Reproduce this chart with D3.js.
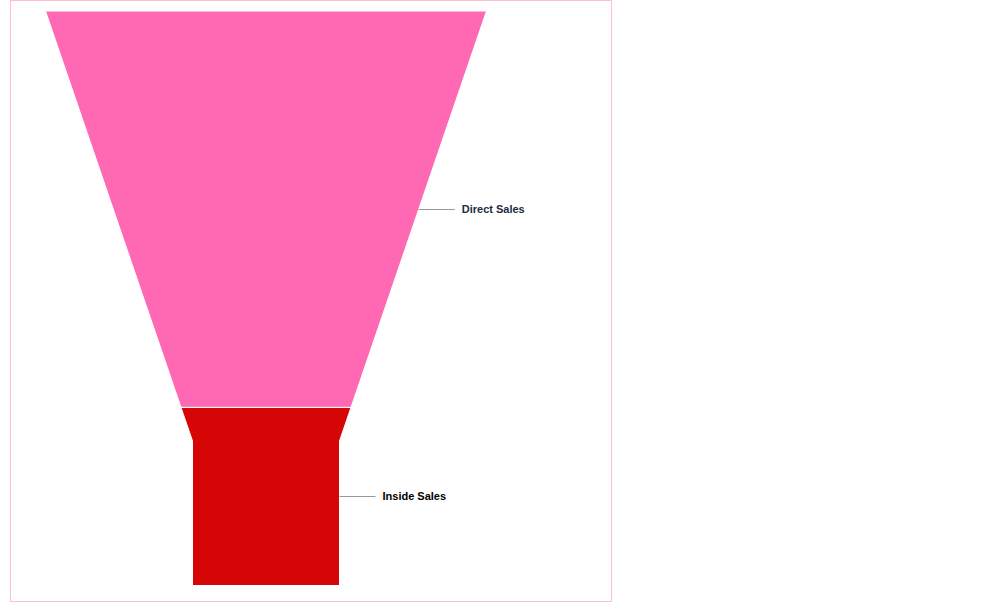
<!DOCTYPE html>
<html><head><meta charset="utf-8">
<script src="https://cdn.jsdelivr.net/npm/d3@7"></script>
<style>body{margin:0;background:#fff}svg{display:block}</style>
</head><body>
<script>
const categories = ["Direct Sales", "Inside Sales"];
const values = [69, 31];
const colors = ["#FF69B4", "#D70606"];
const labelColors = ["#1c2b40", "#000000"];

(function () {
const W = 992, H = 602;
const svg = d3.select("body").append("svg").attr("width", W).attr("height", H);
svg.append("rect").attr("x", 10.5).attr("y", 0.5).attr("width", 601).attr("height", 601)
  .attr("fill", "#fff").attr("stroke", "#ffc0cb").attr("stroke-width", 1);

const fTop = 11, fBottom = 585.5, cx = 266, topW = 441, neckW = 147, neckY = 441;
const total = d3.sum(values);
const y = d3.scaleLinear().domain([0, total]).range([fTop, fBottom]);
const halfW = d3.scaleLinear().domain([fTop, neckY]).range([topW / 2, neckW / 2]).clamp(true);

let cum = 0;
const segs = values.map((v, i) => {
  const y0 = y(cum), y1 = y(cum + v); cum += v;
  return {name: categories[i], y0, y1, color: colors[i], lc: labelColors[i]};
});

segs.forEach(s => {
  const pts = [];
  pts.push([cx - halfW(s.y0), s.y0], [cx + halfW(s.y0), s.y0]);
  const crosses = s.y0 < neckY && s.y1 > neckY;
  if (crosses) pts.push([cx + neckW / 2, neckY]);
  pts.push([cx + halfW(s.y1), s.y1], [cx - halfW(s.y1), s.y1]);
  if (crosses) pts.push([cx - neckW / 2, neckY]);
  svg.append("path").attr("d", d3.line()(pts) + "Z")
    .attr("fill", s.color).attr("stroke", "#ffffff").attr("stroke-width", 1);
  const ym = (s.y0 + s.y1) / 2;
  const ex = cx + halfW(ym);
  svg.append("path").attr("d", `M${ex},${Math.round(ym) + 0.5}H${ex + 36}`)
    .attr("stroke", "#999").attr("stroke-width", 1).attr("fill", "none");
  svg.append("text").attr("x", ex + 43).attr("y", ym).attr("dy", "0.3em")
    .attr("font-family", "Liberation Sans, Arial, sans-serif").attr("font-size", 11)
    .attr("font-weight", "bold").attr("fill", s.lc).text(s.name);
});
})();
</script>
</body></html>
